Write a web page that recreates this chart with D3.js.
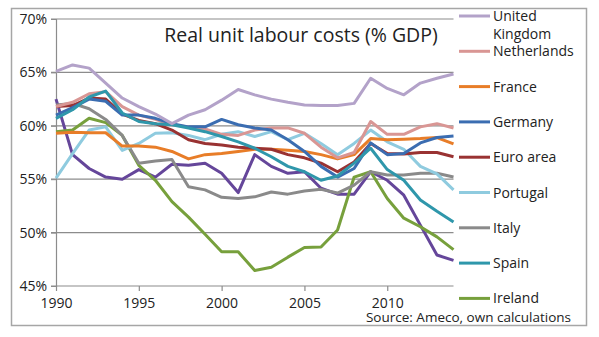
<!DOCTYPE html>
<html>
<head>
<meta charset="utf-8" />
<title>Real unit labour costs (% GDP)</title>
<style>
  body { margin: 0; background: #fff; }
  text { font-family: "Open Sans", "Liberation Sans", sans-serif; fill: #222; }
  .grid line { stroke: #8c8c8c; stroke-width: 1.2px; }
  .line { fill: none; stroke-width: 3px; stroke-linejoin: round; }
</style>
</head>
<body>
<svg id="chart" width="599" height="337"></svg>
<script src="https://d3js.org/d3.v7.min.js"></script>
<script>
// ---------- data ----------
var years = d3.range(1990, 2015);
var yTicks = [45, 50, 55, 60, 65, 70];
var xTicks = [1990, 1995, 2000, 2005, 2010];

var unitedKingdom = [65.1, 65.7, 65.4, 64.0, 62.6, 61.8, 61.1, 60.2, 61.0, 61.5, 62.4, 63.4, 62.9, 62.5, 62.2, 61.95, 61.9, 61.9, 62.1, 64.45, 63.5, 62.9, 64.0, 64.45, 64.85];
var netherlands   = [61.8, 62.2, 63.0, 63.2, 61.8, 61.0, 60.6, 60.1, 59.9, 59.7, 59.2, 59.1, 59.6, 59.8, 59.8, 59.3, 58.0, 57.0, 57.5, 60.4, 59.2, 59.2, 59.9, 60.2, 59.8];
var france        = [59.3, 59.4, 59.35, 59.35, 58.1, 58.1, 58.0, 57.6, 56.9, 57.3, 57.4, 57.6, 57.8, 57.8, 57.7, 57.6, 57.3, 56.9, 57.3, 58.8, 58.7, 58.75, 58.8, 58.9, 58.3];
var germany       = [61.0, 61.7, 62.5, 62.3, 61.0, 61.0, 60.7, 60.2, 59.9, 59.9, 60.6, 60.1, 59.8, 59.6, 58.7, 57.6, 56.2, 55.2, 56.0, 58.4, 57.3, 57.4, 58.4, 58.9, 59.05];
var euroArea      = [61.8, 61.9, 62.6, 62.5, 61.1, 60.5, 60.2, 59.6, 58.7, 58.35, 58.2, 58.0, 57.9, 57.8, 57.3, 57.0, 56.5, 55.7, 56.6, 58.35, 57.4, 57.35, 57.5, 57.5, 57.1];
var portugal      = [55.1, 57.4, 59.6, 59.9, 57.7, 58.35, 59.3, 59.35, 59.1, 58.7, 59.2, 59.45, 59.0, 59.45, 58.7, 59.3, 58.35, 57.3, 58.35, 59.6, 58.5, 57.8, 56.2, 55.5, 54.0];
var italy         = [61.95, 62.1, 61.6, 60.6, 59.1, 56.5, 56.7, 56.85, 54.3, 54.0, 53.3, 53.2, 53.35, 53.8, 53.6, 53.9, 54.05, 53.7, 54.45, 55.7, 55.4, 55.4, 55.55, 55.55, 55.2];
var spain         = [60.7, 61.5, 62.7, 63.25, 61.2, 60.4, 60.2, 60.1, 59.8, 59.45, 59.0, 58.5, 57.9, 57.1, 56.2, 55.7, 54.9, 55.3, 56.5, 57.9, 55.9, 54.9, 53.05, 52.0, 51.0];
var ireland       = [59.45, 59.6, 60.7, 60.3, 59.1, 56.3, 54.9, 52.9, 51.45, 49.85, 48.2, 48.2, 46.45, 46.75, 47.7, 48.6, 48.65, 50.25, 55.2, 55.7, 53.2, 51.35, 50.55, 49.6, 48.4];
var greece        = [62.5, 57.3, 56.0, 55.2, 55.0, 55.9, 55.2, 56.4, 56.3, 56.5, 55.55, 53.75, 57.3, 56.2, 55.55, 55.7, 54.15, 53.6, 53.6, 55.7, 54.9, 53.5, 50.7, 47.9, 47.4];

// drawing order (first drawn is underneath)
var series = [
  {name: "Greece",         values: greece,        color: "#65469a"},
  {name: "Ireland",        values: ireland,       color: "#77a03c"},
  {name: "Italy",          values: italy,         color: "#8a8a8a"},
  {name: "Portugal",       values: portugal,      color: "#8fcbdf"},
  {name: "France",         values: france,        color: "#e87d28"},
  {name: "Euro area",      values: euroArea,      color: "#993232"},
  {name: "Netherlands",    values: netherlands,   color: "#d99694"},
  {name: "Germany",        values: germany,       color: "#3b6db1"},
  {name: "Spain",          values: spain,         color: "#2f97ab"},
  {name: "United Kingdom", values: unitedKingdom, color: "#b3a2c9"}
];
// the purple line has no legend entry in the original
var legendOrder = ["United Kingdom", "Netherlands", "France", "Germany", "Euro area",
                   "Portugal", "Italy", "Spain", "Ireland"];

// ---------- chart ----------
var svg = d3.select("#chart");

svg.append("rect")
  .attr("x", 11.5).attr("y", 8.5)
  .attr("width", 575).attr("height", 317)
  .attr("fill", "#fff").attr("stroke", "#a6a6a6").attr("stroke-width", 1.5);

var x = d3.scaleLinear().domain([1990, 2014]).range([56, 453.5]);
var y = d3.scaleLinear().domain([45, 70]).range([286, 19]);

// horizontal gridlines
svg.append("g").attr("class", "grid")
  .selectAll("line").data(yTicks).enter().append("line")
  .attr("x1", x(1990) - 5).attr("x2", x(2014))
  .attr("y1", function(d) { return y(d); })
  .attr("y2", function(d) { return y(d); });

// y axis
var yAxis = svg.append("g")
  .attr("transform", "translate(" + x(1990) + ",0)")
  .call(d3.axisLeft(y).tickValues(yTicks).tickSize(5).tickPadding(4)
        .tickFormat(function(d) { return d + "%"; }));
yAxis.select(".domain").attr("stroke", "#8c8c8c").attr("stroke-width", 1.2);
yAxis.selectAll(".tick line").attr("stroke", "#8c8c8c");
yAxis.selectAll("text").style("font-size", "14px").attr("fill", "#222");

// x axis
var xAxis = svg.append("g")
  .attr("transform", "translate(0," + y(45) + ")")
  .call(d3.axisBottom(x).tickValues(xTicks).tickSize(5).tickPadding(7)
        .tickFormat(d3.format("d")));
xAxis.select(".domain").remove();
xAxis.selectAll(".tick line").attr("stroke", "#8c8c8c").attr("stroke-width", 1.2);
xAxis.selectAll("text").style("font-size", "14px").attr("fill", "#222");

// lines
var line = d3.line()
  .x(function(d, i) { return x(years[i]); })
  .y(function(d) { return y(d); });

svg.append("g").selectAll("path").data(series).enter().append("path")
  .attr("class", "line")
  .attr("stroke", function(d) { return d.color; })
  .attr("d", function(d) { return line(d.values); });

// title
svg.append("text")
  .attr("x", 301).attr("y", 42)
  .attr("text-anchor", "middle")
  .style("font-size", "19.5px")
  .text("Real unit labour costs (% GDP)");

// legend
var byName = {};
series.forEach(function(s) { byName[s.name] = s; });
var leg = svg.append("g").selectAll("g").data(legendOrder).enter().append("g")
  .attr("transform", function(d, i) { return "translate(459," + (16 + i * 35.3) + ")"; });
leg.append("line")
  .attr("x1", 0).attr("x2", 31)
  .attr("stroke", function(d) { return byName[d].color; })
  .attr("stroke-width", 3);
leg.append("text")
  .attr("x", 34).attr("y", 5)
  .style("font-size", "14px")
  .each(function(d) {
    var t = d3.select(this);
    if (d === "United Kingdom") {
      t.append("tspan").attr("x", 34).text("United");
      t.append("tspan").attr("x", 34).attr("dy", 17.5).text("Kingdom");
    } else {
      t.text(d);
    }
  });

// source
svg.append("text")
  .attr("x", 571).attr("y", 322)
  .attr("text-anchor", "end")
  .style("font-size", "13.5px")
  .text("Source: Ameco, own calculations");
</script>
</body>
</html>
